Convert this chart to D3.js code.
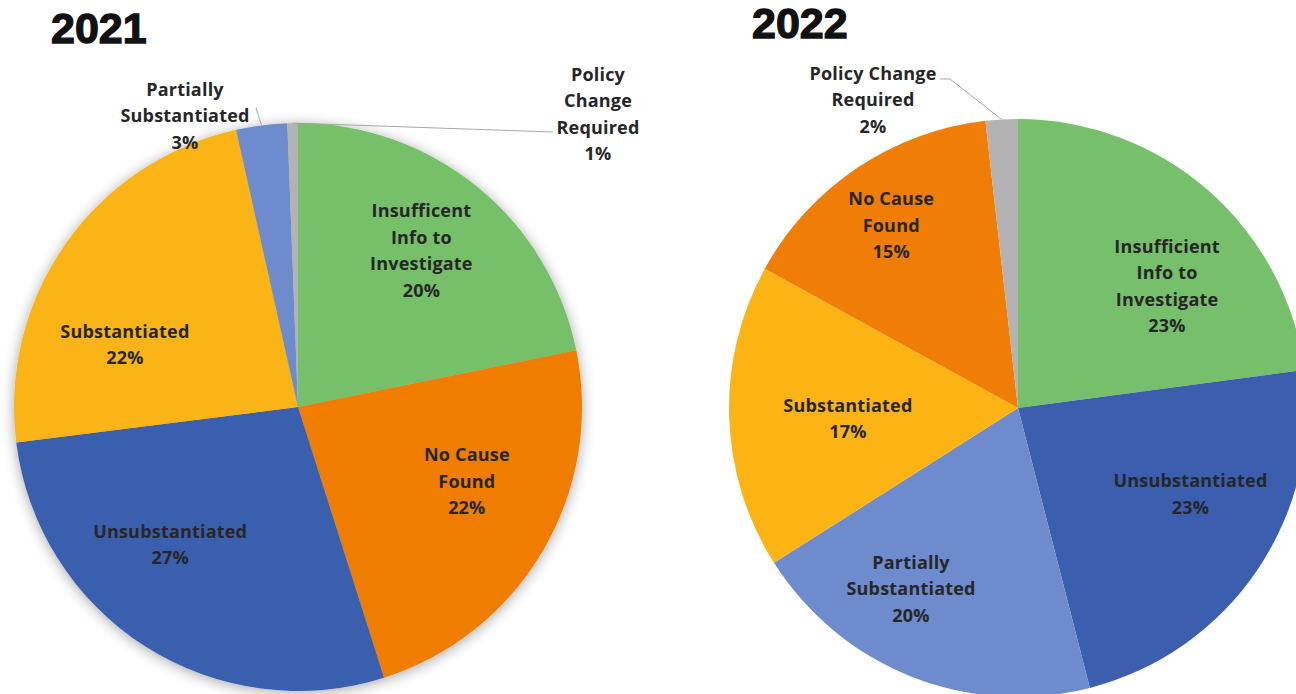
<!DOCTYPE html>
<html>
<head>
<meta charset="utf-8">
<script src="https://cdn.jsdelivr.net/npm/d3@7"></script>
<style>
  html, body { margin: 0; padding: 0; background: #fff; }
  svg { display: block; }
</style>
</head>
<body>
<svg id="chart" width="1296" height="694"></svg>
<script>
// ---------- DATA ----------
const titles = ["2021", "2022"];

const categories2021 = ["Insufficent Info to Investigate", "No Cause Found", "Unsubstantiated", "Substantiated", "Partially Substantiated", "Policy Change Required"];
const values2021 = [21.8, 23.3, 27.9, 23.5, 2.9, 0.6];
const pctLabels2021 = ["20%", "22%", "27%", "22%", "3%", "1%"];

const categories2022 = ["Insufficient Info to Investigate", "Unsubstantiated", "Partially Substantiated", "Substantiated", "No Cause Found", "Policy Change Required"];
const values2022 = [22.9, 23.1, 20.0, 17.0, 15.2, 1.8];
const pctLabels2022 = ["23%", "23%", "20%", "17%", "15%", "2%"];

// ---------- STYLE / LAYOUT ----------
const colorOf = {
  "Insufficent Info to Investigate": "#76C06B",
  "Insufficient Info to Investigate": "#76C06B",
  "No Cause Found": "#F07D05",
  "Unsubstantiated": "#3B5EAF",
  "Substantiated": "#FBB414",
  "Partially Substantiated": "#6E8BCD",
  "Policy Change Required": "#B3B3B3"
};

// label line breaks (text wrapping as in the reference)
const lines2021 = [["Insufficent", "Info to", "Investigate"], ["No Cause", "Found"], ["Unsubstantiated"], ["Substantiated"], ["Partially", "Substantiated"], ["Policy", "Change", "Required"]];
const lines2022 = [["Insufficient", "Info to", "Investigate"], ["Unsubstantiated"], ["Partially", "Substantiated"], ["Substantiated"], ["No Cause", "Found"], ["Policy Change", "Required"]];

const pies = [
  { title: titles[0], titlePos: [51, 43], cx: 298, cy: 407, r: 284, shadow: true,
    cats: categories2021, vals: values2021, pcts: pctLabels2021, lines: lines2021,
    nudge: [[12, -20], [17, -15], [-33, -11], [-29, 39], null, null],
    outside: { 4: { at: [185, 116], leader: [[256, 108]] }, 5: { at: [598, 114], leader: [[553, 132]] } } },
  { title: titles[1], titlePos: [752, 38], cx: 1018, cy: 408, r: 289, shadow: false,
    cats: categories2022, vals: values2022, pcts: pctLabels2022, lines: lines2022,
    nudge: [[31, 13], [24, -14], [-41, 14], [9, 5], [-27, -34], null],
    outside: { 5: { at: [873, 100], leader: [[940, 79], [950, 79]] } } }
];

const FONT = "'Open Sans', Lato, sans-serif";
const FS = 18;
const LH = 26.5;

const svg = d3.select("#chart");
const defs = svg.append("defs");
const f = defs.append("filter").attr("id", "shadow").attr("x", "-20%").attr("y", "-20%").attr("width", "140%").attr("height", "140%");
f.append("feGaussianBlur").attr("in", "SourceAlpha").attr("stdDeviation", 7).attr("result", "b");
f.append("feOffset").attr("in", "b").attr("dx", 0).attr("dy", 2).attr("result", "o");
f.append("feComponentTransfer").attr("in", "o").attr("result", "s")
  .append("feFuncA").attr("type", "linear").attr("slope", 0.35);
const fm = f.append("feMerge");
fm.append("feMergeNode").attr("in", "s");
fm.append("feMergeNode").attr("in", "SourceGraphic");

pies.forEach(p => {
  const pie = d3.pie().sort(null).value(d => d)(p.vals);
  const arc = d3.arc().innerRadius(0).outerRadius(p.r);
  const labArc = d3.arc().innerRadius(p.r * 0.62).outerRadius(p.r * 0.62);

  const g = svg.append("g").attr("transform", `translate(${p.cx},${p.cy})`);
  const sl = g.append("g");
  if (p.shadow) sl.attr("filter", "url(#shadow)");
  sl.selectAll("path").data(pie).join("path")
    .attr("d", arc)
    .attr("fill", (d, i) => colorOf[p.cats[i]]);

  // title
  svg.append("text").attr("x", p.titlePos[0]).attr("y", p.titlePos[1])
    .attr("font-family", "'Liberation Sans', Arial, sans-serif").attr("font-weight", "bold")
    .attr("font-size", 43).attr("fill", "#111").attr("stroke", "#111").attr("stroke-width", 1.3)
    .text(p.title);

  pie.forEach((d, i) => {
    const lines = p.lines[i].concat([p.pcts[i]]);
    let cx, cy;
    if (p.outside[i]) {
      const o = p.outside[i];
      cx = o.at[0]; cy = o.at[1];
      const a = (d.startAngle + d.endAngle) / 2;
      const ex = p.cx + p.r * Math.sin(a), ey = p.cy - p.r * Math.cos(a);
      const pts = o.leader.concat([[ex, ey]]);
      svg.append("path").attr("d", d3.line()(pts))
        .attr("fill", "none").attr("stroke", "#A6A6A6").attr("stroke-width", 1);
    } else {
      const c = labArc.centroid(d);
      cx = p.cx + c[0] + p.nudge[i][0];
      cy = p.cy + c[1] + p.nudge[i][1];
    }
    const t = svg.append("text")
      .attr("font-family", FONT).attr("font-weight", "bold").attr("font-size", FS)
      .attr("letter-spacing", 0.2)
      .attr("fill", "#262626").attr("text-anchor", "middle");
    const n = lines.length;
    lines.forEach((s, k) => {
      t.append("tspan").attr("x", cx)
        .attr("y", cy + (k - (n - 1) / 2) * LH + FS * 0.36)
        .text(s);
    });
  });
});
</script>
</body>
</html>
